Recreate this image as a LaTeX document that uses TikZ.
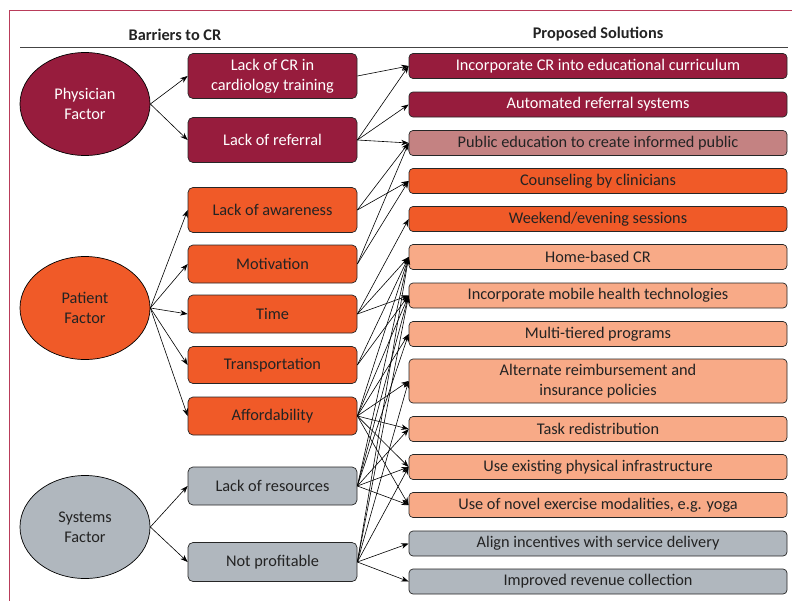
\documentclass[tikz,border=0pt]{standalone}
\usepackage{fontspec}
\setmainfont{Carlito}
\usetikzlibrary{arrows.meta,shapes.geometric}
\definecolor{maroon}{RGB}{151,28,61}
\definecolor{rose}{RGB}{196,130,130}
\definecolor{orng}{RGB}{240,90,40}
\definecolor{salmon}{RGB}{248,170,135}
\definecolor{slate}{RGB}{176,183,190}
\definecolor{ink}{RGB}{35,35,35}
\definecolor{framecol}{RGB}{185,60,90}

\begin{document}
\begin{tikzpicture}[x=1pt,y=-1pt,
  font=\fontsize{16.3}{20}\selectfont,
  factor/.style={ellipse, draw=black, line width=0.7pt, minimum width=130pt,
    minimum height=103pt, align=center, inner sep=0pt},
  barrier/.style={rectangle, rounded corners=5pt, draw=black!85, line width=0.7pt,
    minimum width=169pt, align=center, inner sep=0pt},
  sol/.style={rectangle, rounded corners=4pt, draw=black!85, line width=0.7pt,
    minimum width=378pt, minimum height=25pt, align=center, inner sep=0pt},
  link/.style={draw=black, line width=0.6pt, -{Stealth[length=7.5pt,width=5.5pt]}},
  head/.style={font=\fontsize{16.3}{20}\selectfont\bfseries, text=ink}
]
\useasboundingbox (0,0) rectangle (792,600);

% outer frame
\draw[framecol, line width=0.9pt] (9,605) |- (800,10);

% column headings
\node[head] (hbar) at (175,34.5) {Barriers to CR};
\node[head] (hsol) at (598,34.5) {Proposed Solutions};
\draw[ink!85, line width=1.3pt] (20,47.5) -- (788,47.5);

% factors
\node[factor, fill=maroon, text=white] (phys) at (85,104) {Physician\\Factor};
\node[factor, fill=orng, text=ink] (pat) at (85,308) {Patient\\Factor};
\node[factor, fill=slate, text=ink] (sys) at (85,527) {Systems\\Factor};

% barriers
\node[barrier, fill=maroon, text=white, minimum height=45pt] (b1) at (272.5,76) {Lack of CR in\\cardiology training};
\node[barrier, fill=maroon, text=white, minimum height=45pt] (b2) at (272.5,140) {Lack of referral};
\node[barrier, fill=orng, text=ink, minimum height=45pt] (b3) at (272.5,210) {Lack of awareness};
\node[barrier, fill=orng, text=ink, minimum height=38pt] (b4) at (272.5,264) {Motivation};
\node[barrier, fill=orng, text=ink, minimum height=38pt] (b5) at (272.5,314) {Time};
\node[barrier, fill=orng, text=ink, minimum height=37pt] (b6) at (272.5,365) {Transportation};
\node[barrier, fill=orng, text=ink, minimum height=38pt] (b7) at (272.5,416) {Affordability};
\node[barrier, fill=slate, text=ink, minimum height=38pt] (b8) at (272.5,486) {Lack of resources};
\node[barrier, fill=slate, text=ink, minimum height=39pt] (b9) at (272.5,562) {Not profitable};

% solutions
\node[sol, fill=maroon, text=white] (s1) at (598,66) {Incorporate CR into educational curriculum};
\node[sol, fill=maroon, text=white] (s2) at (598,104.5) {Automated referral systems};
\node[sol, fill=rose, text=ink] (s3) at (598,143) {Public education to create informed public};
\node[sol, fill=orng, text=ink] (s4) at (598,181) {Counseling by clinicians};
\node[sol, fill=orng, text=ink] (s5) at (598,219) {Weekend/evening sessions};
\node[sol, fill=salmon, text=ink] (s6) at (598,257) {Home-based CR};
\node[sol, fill=salmon, text=ink] (s7) at (598,295.5) {Incorporate mobile health technologies};
\node[sol, fill=salmon, text=ink] (s8) at (598,334) {Multi-tiered programs};
\node[sol, fill=salmon, text=ink, minimum height=44pt] (s9) at (598,381) {Alternate reimbursement and\\insurance policies};
\node[sol, fill=salmon, text=ink] (s10) at (598,429) {Task redistribution};
\node[sol, fill=salmon, text=ink] (s11) at (598,467) {Use existing physical infrastructure};
\node[sol, fill=salmon, text=ink] (s12) at (598,505) {Use of novel exercise modalities, e.g. yoga};
\node[sol, fill=slate, text=ink] (s13) at (598,543.5) {Align incentives with service delivery};
\node[sol, fill=slate, text=ink] (s14) at (598,581.5) {Improved revenue collection};

% factor -> barrier
\foreach \b in {b1,b2} \draw[link] (phys.east) -- (\b.west);
\foreach \b in {b3,b4,b5,b6,b7} \draw[link] (pat.east) -- (\b.west);
\foreach \b in {b8,b9} \draw[link] (sys.east) -- (\b.west);

% barrier -> solution
\foreach \a/\b in {b1/s1, b2/s1, b2/s2, b2/s3, b3/s3, b3/s4, b4/s3, b4/s4,
    b5/s5, b5/s6, b5/s7, b6/s6, b6/s7,
    b7/s6, b7/s7, b7/s8, b7/s9, b7/s10, b7/s11, b7/s12,
    b8/s6, b8/s7, b8/s8, b8/s10, b8/s11, b8/s12,
    b9/s6, b9/s7, b9/s9, b9/s11, b9/s13, b9/s14}
  \draw[link] (\a.east) -- (\b.west);
\end{tikzpicture}
\end{document}
